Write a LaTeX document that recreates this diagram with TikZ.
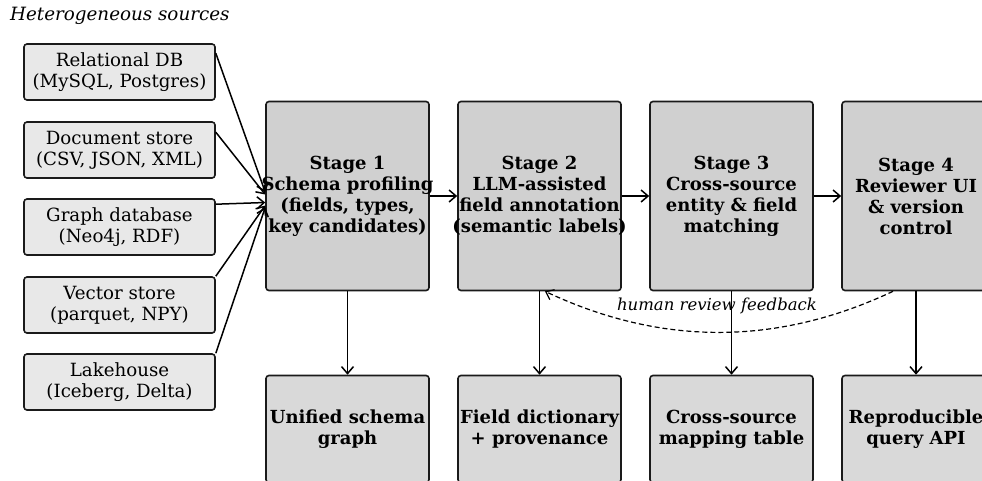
\documentclass[tikz,border=0pt]{standalone}
\usepackage{fontspec}
\setmainfont{DejaVu Serif}
\usetikzlibrary{arrows.meta}
\definecolor{srcfill}{HTML}{E8E8E8}
\definecolor{stagefill}{HTML}{D0D0D0}
\definecolor{outfill}{HTML}{D9D9D9}
\definecolor{edgecol}{HTML}{1A1A1A}
\tikzset{
  src/.style={draw=edgecol, fill=srcfill, rounded corners=3, line width=1.6,
    minimum width=191, minimum height=56, inner sep=0, align=center,
    font=\fontsize{18.2}{21}\selectfont},
  boldtext/.style={inner sep=0, align=center, font=\bfseries\fontsize{18}{21}\selectfont},
  stagebox/.style={draw=edgecol, fill=stagefill, rounded corners=3, line width=1.6,
    minimum width=163, minimum height=189, inner sep=0},
  outbox/.style={draw=edgecol, fill=outfill, rounded corners=3, line width=1.6,
    minimum width=163, minimum height=107, inner sep=0},
  conn/.style={draw=black, line width=1.5, -{Straight Barb[length=7pt,width=12pt]}},
  fb/.style={draw=black, line width=1.2, dash pattern=on 5pt off 3pt,
    -{Straight Barb[length=7pt,width=11pt]}},
}
\begin{document}
\begin{tikzpicture}[x=1pt,y=-1pt]
\useasboundingbox (0,0) rectangle (982,480);
\clip (0,0) rectangle (982,480);
\node[anchor=base west, inner sep=0, font=\itshape\fontsize{18.3}{21}\selectfont] (title) at (10,20) {Heterogeneous sources};

\node[src] (s1) at (119.5,72) {Relational DB\\(MySQL, Postgres)};
\node[src] (s2) at (119.5,150) {Document store\\(CSV, JSON, XML)};
\node[src] (s3) at (119.5,227) {Graph database\\(Neo4j, RDF)};
\node[src] (s4) at (119.5,305) {Vector store\\(parquet, NPY)};
\node[src] (s5) at (119.5,382) {Lakehouse\\(Iceberg, Delta)};

\node[stagebox, label={[boldtext]center:Stage 1\\Schema profiling\\(fields, types,\\key candidates)}] (st1) at (347.5,196) {};
\node[stagebox, label={[boldtext]center:Stage 2\\LLM-assisted\\field annotation\\(semantic labels)}] (st2) at (539.5,196) {};
\node[stagebox, label={[boldtext]center:Stage 3\\Cross-source\\entity \& field\\matching}] (st3) at (731.5,196) {};
\node[stagebox, minimum width=148, label={[boldtext]center:Stage 4\\Reviewer UI\\\& version\\control}] (st4) at (916,196) {};

\node[outbox, label={[boldtext]center:Unified schema\\graph}] (o1) at (347.5,429) {};
\node[outbox, label={[boldtext]center:Field dictionary\\+ provenance}] (o2) at (539.5,429) {};
\node[outbox, label={[boldtext]center:Cross-source\\mapping table}] (o3) at (731.5,429) {};
\node[outbox, minimum width=148, label={[boldtext]center:Reproducible\\query API}] (o4) at (916,429) {};

\draw[conn] ([yshift=-10pt]s1.north east) -- ([yshift=4pt]st1.west);
\draw[conn] ([yshift=-11pt]s2.north east) -- ([yshift=1.5pt]st1.west);
\draw[conn] ([yshift=-6pt]s3.north east) -- ([yshift=-6.5pt]st1.west);
\draw[conn] (s4.north east) -- ([yshift=-9.5pt]st1.west);
\draw[conn] (s5.north east) -- ([yshift=-11.5pt]st1.west);

\draw[conn] (st1.east) -- (st2.west);
\draw[conn] (st2.east) -- (st3.west);
\draw[conn] (st3.east) -- (st4.west);

\draw[conn] (st1.south) -- (o1.north);
\draw[conn] (st2.south) -- (o2.north);
\draw[conn] (st3.south) -- (o3.north);
\draw[conn] (st4.south) -- (o4.north);

\draw[fb] ([xshift=-23pt]st4.south) .. controls (777,346) and (661,346) .. ([xshift=5.5pt]st2.south);
\node[font=\itshape\fontsize{16.5}{19}\selectfont, inner sep=0] (fblabel) at (717,306) {human review feedback};
\end{tikzpicture}
\end{document}
